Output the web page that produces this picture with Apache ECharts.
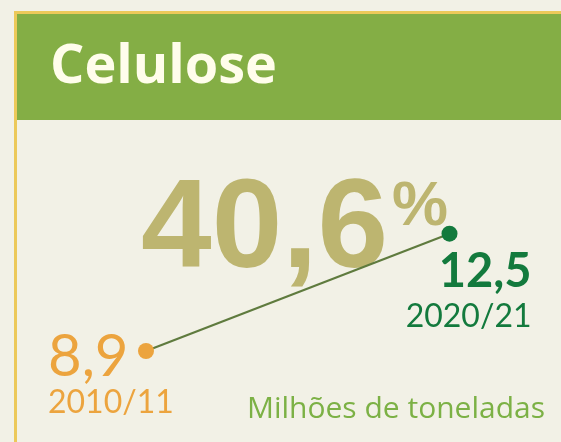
<!DOCTYPE html>
<html>
<head>
<meta charset="utf-8">
<script src="https://cdn.jsdelivr.net/npm/echarts@6/dist/echarts.min.js"></script>
<style>
  html, body { margin: 0; padding: 0; background: #f2f1e6; }
  #chart { width: 561px; height: 442px; }
</style>
</head>
<body>
<div id="chart"></div>
<script>
// dados
const years = ['2010/11', '2020/21'];
const volumes = [8.9, 12.5];           // milhões de toneladas
const pointColors = ['#eca43e', '#137a3d'];
const growth = '40,6';
const unit = 'Milhões de toneladas';
const title = 'Celulose';

const fmt = v => String(v).replace('.', ',');

const chart = echarts.init(document.getElementById('chart'));

// rótulo de cada ponto: valor em cima, safra embaixo
const labels = [
  { align: 'left', offset: [-98, -22] },
  { align: 'right', offset: [82, 11] }
];

const data = volumes.map((v, i) => ({
  value: v,
  itemStyle: { color: pointColors[i] },
  label: {
    show: true,
    position: 'inside',
    align: labels[i].align,
    verticalAlign: 'top',
    offset: labels[i].offset,
    formatter: '{v|' + fmt(v) + '}\n{y|' + years[i] + '}',
    rich: {
      v: {
        fontFamily: 'Lato', fontSize: i === 0 ? 58 : 47,
        fontWeight: i === 0 ? 'normal' : 'bold',
        color: pointColors[i], lineHeight: i === 0 ? 56 : 54
      },
      y: {
        fontFamily: 'Lato', fontSize: 32,
        color: pointColors[i], lineHeight: 36
      }
    }
  }
}));

chart.setOption({
  backgroundColor: '#f2f1e6',
  animation: false,
  grid: { left: 146, width: 303.5, top: 184.8, height: 195.5 },
  xAxis: { type: 'category', data: years, boundaryGap: false, show: false },
  yAxis: { type: 'value', min: 8, max: 14, show: false },
  graphic: [
    // moldura e faixa do título
    { type: 'rect', z: 0, shape: { x: 14, y: 11, width: 547, height: 3 }, style: { fill: '#ecc95a' } },
    { type: 'rect', z: 0, shape: { x: 14, y: 11, width: 3, height: 431 }, style: { fill: '#ecc95a' } },
    { type: 'rect', z: 0, shape: { x: 17, y: 14, width: 544, height: 106 }, style: { fill: '#84ae45' } },
    {
      type: 'text', z: 1, left: 50, top: 41,
      style: { text: title, fill: '#fffdeb', font: 'bold 54px "Open Sans"' }
    },
    {
      type: 'text', z: 1, left: 141, top: 168,
      style: { text: growth, fill: '#bdb570', font: 'bold 127px "Liberation Sans"' }
    },
    {
      type: 'text', z: 1, left: 392, top: 176,
      style: { text: '%', fill: '#bdb570', font: 'bold 63px "Liberation Sans"' }
    },
    {
      type: 'text', z: 1, right: 16, top: 394,
      style: { text: unit, fill: '#7cb145', font: '30px "Open Sans"' }
    }
  ],
  series: [{
    type: 'line',
    z: 5,
    data: data,
    symbol: 'circle',
    symbolSize: 16,
    lineStyle: { color: '#5f7b3e', width: 2.2 }
  }]
});
</script>
</body>
</html>
